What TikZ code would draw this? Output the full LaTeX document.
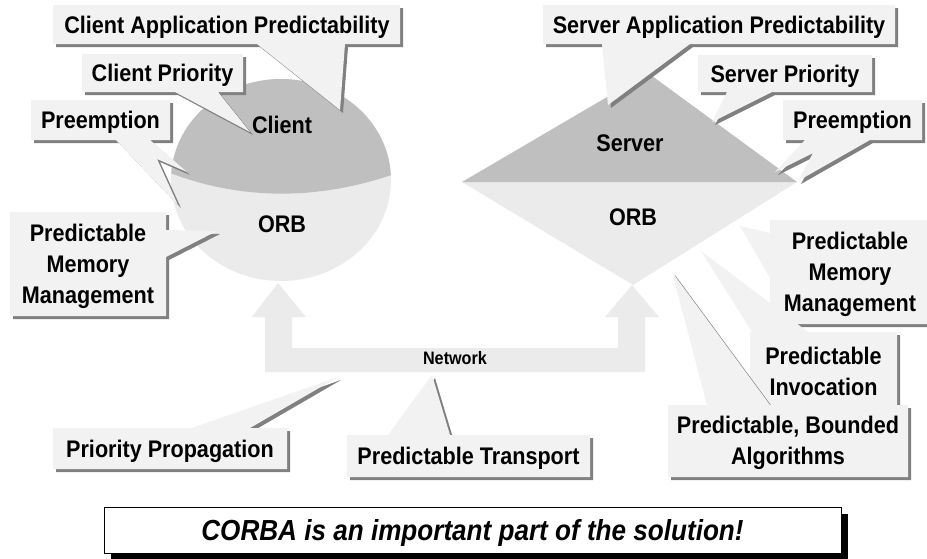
\documentclass[tikz,border=0pt]{standalone}
\usepackage{fontspec}
\setmainfont[FakeStretch=0.9]{Liberation Sans}

\begin{document}
\begin{tikzpicture}[x=1pt, y=-1pt,
    callout/.style={fill=black!5,
                    preaction={fill=black!50, transform canvas={shift={(3,3)}}}},
    calltext/.style={font=\bfseries\fontsize{24}{31}\selectfont,
                     inner sep=0pt, text depth=0pt},
    calltexts/.style={font=\bfseries\fontsize{24}{31}\selectfont,
                      inner sep=0pt, align=center},
    part/.style={font=\bfseries\fontsize{24}{31}\selectfont,
                 inner sep=0pt, text depth=0pt},
    motto/.style={draw=black, line width=1pt, fill=white, inner sep=0pt,
                  minimum width=737pt, minimum height=46pt, text depth=0pt,
                  font=\bfseries\itshape\fontsize{29}{35}\selectfont,
                  preaction={fill=black, transform canvas={shift={(7,7)}}}}
]
    \useasboundingbox (0,0) rectangle (927,558);

    % Network link with its two up arrows
    \fill[black!8] (278,283) -- (306,317) -- (292,317) -- (292,348)
        -- (618,348) -- (618,317) -- (605,317) -- (632,285) -- (659,317)
        -- (645,317) -- (645,372) -- (265,372) -- (265,317) -- (252,317)
        -- cycle;
    \node[font=\bfseries\fontsize{18}{22}\selectfont, inner sep=0pt,
          text depth=0pt] (net) at (455,358) {Network};

    % Client side (x=281)
    \fill[black!8] (281,180) ellipse [x radius=110, y radius=101];
    \begin{scope}
        \clip (281,180) ellipse [x radius=110, y radius=101];
        \fill[black!25] (165,70) -- (400,70) -- (400,172)
            .. controls (320,201) and (240,201) .. (165,171) -- cycle;
    \end{scope}
    \node[part] (client) at (282,125) {Client};
    \node[part] (corb)   at (282,224) {ORB};

    % Server side (x=633)
    \fill[black!8]  (462,182) -- (797,182) -- (633,285) -- cycle;
    \fill[black!25] (462,182) -- (648,73) -- (797,182) -- cycle;
    \node[part] (server) at (630,143) {Server};
    \node[part] (sorb)   at (633,217) {ORB};

    % Client callouts
    \fill[callout] (53,5) -- (400,5) -- (400,44) -- (345,44) -- (340,110)
        -- (257,44) -- (53,44) -- cycle;
    \node[calltext] (capp) at (227,25) {Client Application Predictability};

    \fill[callout] (82,54) -- (243,54) -- (243,92) -- (218,92) -- (250,132)
        -- (175,92) -- (82,92) -- cycle;
    \node[calltext] (cpri) at (162.5,73) {Client Priority};

    \fill[callout] (31,100) -- (170,100) -- (170,140) -- (150,140)
        -- (187,172) -- (157,159) -- (178,205) -- (116,140) -- (31,140)
        -- cycle;
    \node[calltext] (cpre) at (100.5,120) {Preemption};

    \fill[callout] (10,212) -- (166,212) -- (166,230) -- (217,231)
        -- (166,257) -- (166,316) -- (10,316) -- cycle;
    \node[calltexts] (cmem) at (88,266) {Predictable\\Memory\\Management};

    % Server callouts
    \fill[callout] (543,5) -- (895,5) -- (895,44) -- (690,44) -- (608,105)
        -- (602,44) -- (543,44) -- cycle;
    \node[calltext] (sapp) at (719,25) {Server Application Predictability};

    \fill[callout] (698,55) -- (872,55) -- (872,92) -- (772,92) -- (712,122)
        -- (727,92) -- (698,92) -- cycle;
    \node[calltext] (spri) at (785,73.5) {Server Priority};

    \fill[callout] (783,100) -- (922,100) -- (922,140) -- (870,140)
        -- (798,181) -- (813,153) -- (775,172) -- (805,140) -- (783,140)
        -- cycle;
    \node[calltext] (spre) at (852.5,120) {Preemption};

    \fill[callout] (770,220) -- (930,220) -- (930,324) -- (770,324)
        -- (770,278) -- (740,226) -- (770,233) -- cycle;
    \node[calltexts] (smem) at (850,274) {Predictable\\Memory\\Management};

    \fill[callout] (750,332) -- (752,332) -- (701,251) -- (808,332)
        -- (897,332) -- (897,407) -- (750,407) -- cycle;
    \node[calltexts] (sinv) at (823.5,371) {Predictable\\Invocation};

    \fill[callout] (668,405) -- (707,405) -- (672,272) -- (770,405)
        -- (908,405) -- (908,477) -- (668,477) -- cycle;
    \node[calltexts] (sbnd) at (788,443) {Predictable, Bounded\\Algorithms};

    % Network callouts
    \fill[callout] (53,428) -- (192,428) -- (338,377) -- (250,428)
        -- (287,428) -- (287,469) -- (53,469) -- cycle;
    \node[calltext] (ppro) at (170,449) {Priority Propagation};

    \fill[callout] (347,435) -- (388,435) -- (432,375) -- (450,435)
        -- (590,435) -- (590,477) -- (347,477) -- cycle;
    \node[calltext] (ptra) at (468.5,456) {Predictable Transport};

    % Bottom line
    \node[motto] (motto) at (472.5,530)
        {CORBA is an important part of the solution!};
\end{tikzpicture}
\end{document}
